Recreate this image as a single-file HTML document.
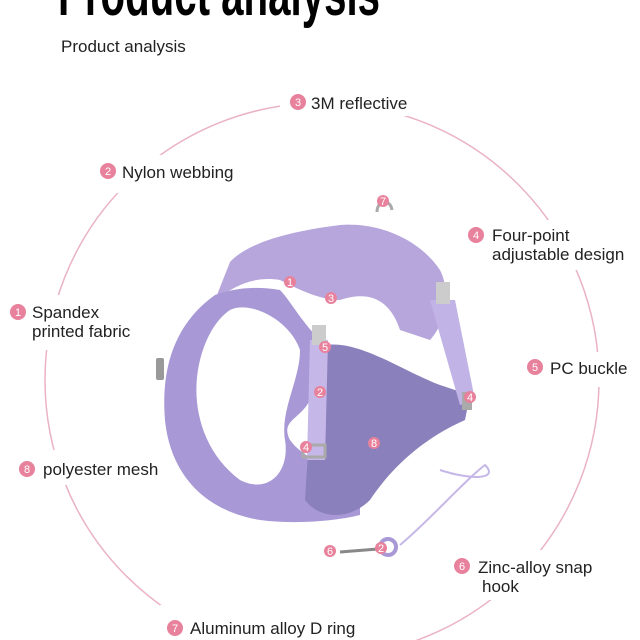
<!DOCTYPE html>
<html><head><meta charset="utf-8"><style>
html,body{margin:0;padding:0;background:#fff}
svg{display:block}
text{font-family:"Liberation Sans Narrow","Liberation Sans",sans-serif}
.l{font-size:17px;fill:#222}
.n{fill:#e8819c}
.nt{font-size:11px;fill:#fff;text-anchor:middle;font-family:"Liberation Sans",sans-serif}
</style></head><body>
<svg width="640" height="640" viewBox="0 0 640 640">
<text x="58" y="15" font-size="62" font-weight="bold" style="font-family:'Liberation Sans Narrow','Liberation Sans',sans-serif" transform="scale(1,1)" fill="#000" textLength="322" lengthAdjust="spacingAndGlyphs">Product analysis</text>
<text x="61" y="52" font-size="17" fill="#222" class="l">Product analysis</text>
<circle cx="322" cy="380" r="277" fill="none" stroke="#eab3c3" stroke-width="1.5"/>
<!-- label backgrounds -->
<g fill="#fff">
<rect x="280" y="88" width="150" height="28"/>
<rect x="90" y="155" width="160" height="38"/>
<rect x="5" y="295" width="140" height="55"/>
<rect x="10" y="450" width="160" height="35"/>
<rect x="160" y="605" width="210" height="35"/>
<rect x="460" y="220" width="180" height="50"/>
<rect x="520" y="352" width="120" height="35"/>
<rect x="445" y="550" width="160" height="50"/>
</g>
<!-- harness -->
<g>
<path d="M230 262 C250 240 300 230 340 225 C380 222 420 240 440 270 C450 290 448 320 430 340 L400 330 C390 300 370 290 340 300 C320 300 300 290 280 280 C250 275 230 290 215 300 Z" fill="#b7a6dc"/>
<path d="M215 295 C180 320 160 360 165 420 C170 470 200 510 260 520 C300 525 340 520 360 515 L360 480 C330 470 300 455 290 440 C280 420 300 420 310 400 L320 340 C300 320 290 300 280 290 C250 285 230 290 215 295 Z M200 360 C190 400 200 450 240 480 C270 495 290 470 285 440 C280 410 300 380 300 350 C290 320 250 300 230 310 C215 320 205 340 200 360 Z" fill="#a898d6" fill-rule="evenodd"/>
<path d="M325 345 C360 340 400 370 440 385 L470 395 L465 420 C420 440 390 470 370 500 C350 520 320 520 305 500 L310 420 Z" fill="#8a80bc"/>
<path d="M430 300 L455 300 L475 400 L460 405 Z" fill="#c2b3e6"/>
<path d="M310 340 L328 340 L325 460 L307 460 Z" fill="#c5b7e8"/>
<rect x="436" y="282" width="14" height="22" fill="#ccc"/>
<rect x="312" y="325" width="14" height="20" fill="#ccc"/>
<rect x="303" y="445" width="22" height="12" fill="none" stroke="#aaa" stroke-width="3"/>
<rect x="156" y="358" width="8" height="22" rx="2" fill="#999"/>
<rect x="462" y="392" width="10" height="18" fill="#aaa"/>
<path d="M377 212 C377 200 390 198 392 210" fill="none" stroke="#aaa" stroke-width="3"/>
<path d="M440 470 C470 480 500 480 485 465 C465 480 430 520 400 545" fill="none" stroke="#c5b7e8" stroke-width="2"/>
<circle cx="388" cy="547" r="8" fill="none" stroke="#a898d6" stroke-width="4"/>
<path d="M340 552 L378 549" stroke="#888" stroke-width="3"/>
</g>
<!-- small number badges on harness -->
<g>
<circle cx="290" cy="282" r="6" class="n"/><text x="290" y="286" class="nt">1</text>
<circle cx="331" cy="298" r="6" class="n"/><text x="331" y="302" class="nt">3</text>
<circle cx="383" cy="201" r="6" class="n"/><text x="383" y="205" class="nt">7</text>
<circle cx="325" cy="347" r="6" class="n"/><text x="325" y="351" class="nt">5</text>
<circle cx="320" cy="392" r="6" class="n"/><text x="320" y="396" class="nt">2</text>
<circle cx="470" cy="397" r="6" class="n"/><text x="470" y="401" class="nt">4</text>
<circle cx="306" cy="447" r="6" class="n"/><text x="306" y="451" class="nt">4</text>
<circle cx="374" cy="443" r="6" class="n"/><text x="374" y="447" class="nt">8</text>
<circle cx="330" cy="551" r="6" class="n"/><text x="330" y="555" class="nt">6</text>
<circle cx="381" cy="548" r="6" class="n"/><text x="381" y="552" class="nt">2</text>
</g>
<!-- labels -->
<g>
<circle cx="298" cy="102" r="8" class="n"/><text x="298" y="106" class="nt">3</text>
<text x="311" y="109" class="l">3M reflective</text>
<circle cx="108" cy="171" r="8" class="n"/><text x="108" y="175" class="nt">2</text>
<text x="122" y="178" class="l">Nylon webbing</text>
<circle cx="18" cy="312" r="8" class="n"/><text x="18" y="316" class="nt">1</text>
<text x="32" y="318" class="l">Spandex</text>
<text x="32" y="337" class="l">printed fabric</text>
<circle cx="27" cy="469" r="8" class="n"/><text x="27" y="473" class="nt">8</text>
<text x="43" y="475" class="l">polyester mesh</text>
<circle cx="175" cy="628" r="8" class="n"/><text x="175" y="632" class="nt">7</text>
<text x="190" y="634" class="l">Aluminum alloy D ring</text>
<circle cx="476" cy="235" r="8" class="n"/><text x="476" y="239" class="nt">4</text>
<text x="492" y="241" class="l">Four-point</text>
<text x="492" y="260" class="l">adjustable design</text>
<circle cx="535" cy="367" r="8" class="n"/><text x="535" y="371" class="nt">5</text>
<text x="550" y="374" class="l">PC buckle</text>
<circle cx="462" cy="566" r="8" class="n"/><text x="462" y="570" class="nt">6</text>
<text x="478" y="573" class="l">Zinc-alloy snap</text>
<text x="482" y="592" class="l">hook</text>
</g>
</svg>
</body></html>
